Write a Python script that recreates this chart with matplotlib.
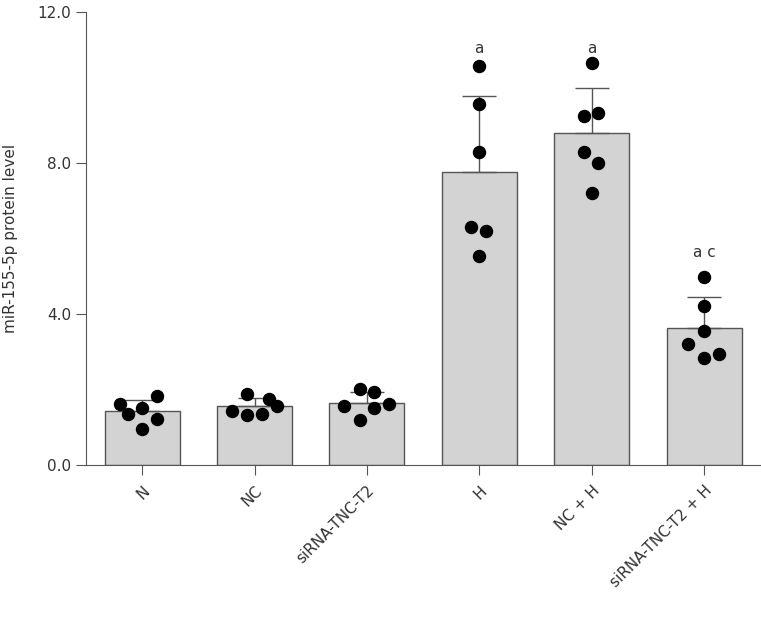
import numpy as np
import matplotlib
matplotlib.use("Agg")
import matplotlib.pyplot as plt

# groups and read-off values
groups = ["N", "NC", "siRNA-TNC-T2", "H", "NC + H", "siRNA-TNC-T2 + H"]
means = [1.43, 1.55, 1.63, 7.76, 8.79, 3.62]
sd = [0.28, 0.22, 0.30, 2.02, 1.19, 0.84]
letters = ["", "", "", "a", "a", "a c"]
letter_y = [0, 0, 0, 11.03, 11.03, 5.62]

# individual points per group (value, x offset within the group)
pts_vals = [
    [1.62, 1.83, 1.35, 1.51, 1.21, 0.95],
    [1.87, 1.74, 1.55, 1.44, 1.33, 1.35],
    [2.00, 1.93, 1.55, 1.50, 1.61, 1.19],
    [10.57, 9.57, 8.30, 6.30, 6.20, 5.54],
    [10.65, 9.23, 9.32, 8.30, 8.00, 7.20],
    [4.99, 4.21, 3.55, 3.21, 2.84, 2.94],
]
pts_dx = [
    [-0.20, 0.135, -0.125, 0.0, 0.135, 0.0],
    [-0.07, 0.13, 0.20, -0.20, -0.07, 0.065],
    [-0.065, 0.065, -0.20, 0.065, 0.20, -0.065],
    [0.0, 0.0, 0.0, -0.07, 0.06, 0.0],
    [0.0, -0.07, 0.06, -0.07, 0.06, 0.0],
    [0.0, 0.0, 0.0, -0.14, 0.0, 0.13],
]

txt = "#333333"
edge = "#555555"

fig = plt.figure(figsize=(7.61, 6.2), dpi=100)
ax = fig.add_axes([0.113, 0.25, 0.886, 0.731])

x = np.arange(len(groups))
ax.bar(x, means, width=0.667, color="#d3d3d3", edgecolor=edge, linewidth=1.0, zorder=1)
ax.errorbar(x, means, yerr=[np.zeros(len(sd)), sd], fmt="none", ecolor=edge,
            elinewidth=1.0, capsize=12, capthick=1.0, zorder=2)

for i in range(len(groups)):
    ax.scatter(x[i] + np.array(pts_dx[i]), pts_vals[i], s=75, color="black", zorder=3)
    if letters[i]:
        ax.text(x[i], letter_y[i], letters[i], ha="center", va="center",
                fontsize=11, color=txt)

ax.set_xlim(-0.5, 5.5)
ax.set_ylim(0, 12)
ax.set_yticks([0, 4, 8, 12])
ax.set_yticklabels(["0.0", "4.0", "8.0", "12.0"])
ax.set_xticks(x)
ax.set_xticklabels(groups, rotation=45, ha="right", rotation_mode="anchor")
ax.tick_params(axis="both", colors=edge, labelcolor=txt, labelsize=11, length=7, width=0.8)
ax.tick_params(axis="x", pad=6)
ax.set_ylabel("miR-155-5p protein level", fontsize=11, color=txt, labelpad=14)

for s in ["top", "right"]:
    ax.spines[s].set_visible(False)
for s in ["left", "bottom"]:
    ax.spines[s].set_color(edge)
    ax.spines[s].set_linewidth(0.8)

fig.savefig("out.png", dpi=100)
